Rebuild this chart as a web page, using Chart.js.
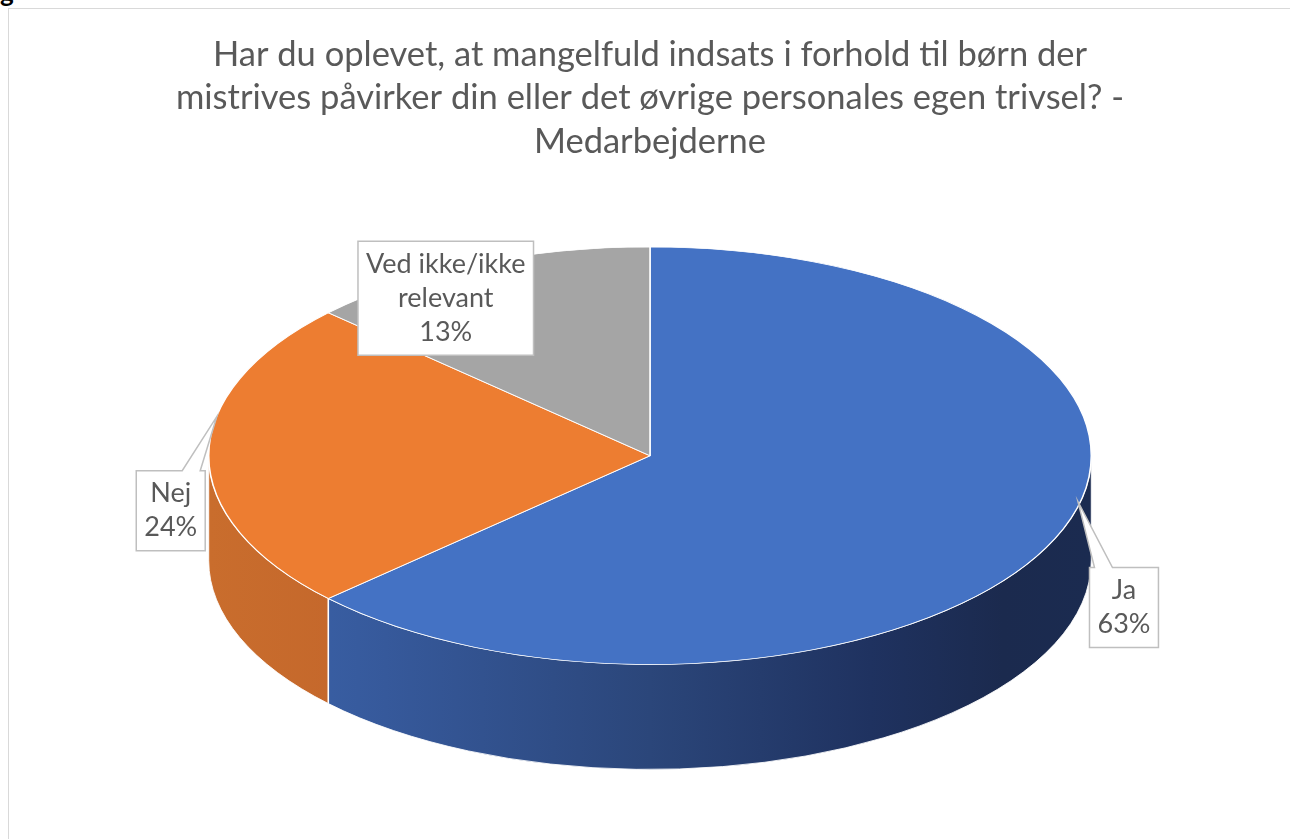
<!DOCTYPE html>
<html lang="da">
<head>
<meta charset="UTF-8">
<title>Medarbejderne</title>
<script src="https://cdn.jsdelivr.net/npm/chart.js"></script>
<style>
    body { margin: 0; background: #fff; overflow: hidden; }
    .g { position: absolute; left: 0; top: -24px; font: bold 26px Lato, sans-serif; color: #000; }
    .ramme { position: absolute; left: 8px; top: 8px; width: 1400px; height: 1000px; border: 1px solid #d9d9d9; }
    .boks { position: absolute; left: 8px; top: 8px; width: 1284px; height: 831px; }
</style>
</head>
<body>
<div class="g">g</div>
<div class="ramme"></div>
<div class="boks"><canvas id="myChart"></canvas></div>

<script>
    // data
    var kategorier = ['Ja', 'Nej', 'Ved ikke/ikke relevant'];
    var andele = [63, 24, 13];
    var etiketLinjer = [['Ja'], ['Nej'], ['Ved ikke/ikke', 'relevant']];

    // farver
    var topFarver = ['#4472C4', '#ED7D31', '#A5A5A5'];
    var sideFarver = [
        ['#3d66ae', '#36599b', '#2b467a', '#1f3260', '#1b2a4e', '#1b2b50'],
        ['#c96d2d', '#c3662b', '#bd6029', '#b85b27', '#b55926', '#b55926'],
        ['#8c8c8c', '#858585', '#7d7d7d', '#767676', '#707070', '#707070']
    ];
    var gradStop = [0, 0.2, 0.5, 0.75, 0.9, 1];

    // 3d udseende
    var BREDDE = 1.544;   // vandret udstrækning af cirklen
    var HAELDNING = 0.473; // lodret/vandret forhold for ellipsen
    var DYBDE = 0.238;    // tykkelse i forhold til vandret radius

    // placering af etiketter i forhold til buens midtpunkt
    var etiketFlyt = [[69, 69], [-38, 55], [-29, 34]];
    var pilSpids = [[23, -37], [8, -39], null];

    function geometri(chart) {
        var meta = chart.getDatasetMeta(0);
        var a = meta.data[0];
        var rx = a.outerRadius * BREDDE;
        return { cx: a.x, cy: a.y, rx: rx, ry: rx * HAELDNING, d: rx * DYBDE, arcs: meta.data };
    }

    var pie3d = {
        id: 'pie3d',
        beforeDatasetsDraw(chart) {
            var ctx = chart.ctx;
            var g = geometri(chart);

            // sidevægge (kun forsiden, vinkler 0..PI)
            g.arcs.forEach(function (arc, i) {
                var a = Math.max(arc.startAngle, 0);
                var b = Math.min(arc.endAngle, Math.PI);
                if (b <= a) return;
                var grad = ctx.createLinearGradient(g.cx - g.rx, 0, g.cx + g.rx, 0);
                sideFarver[i].forEach(function (c, k) { grad.addColorStop(gradStop[k], c); });
                ctx.save();
                ctx.beginPath();
                ctx.ellipse(g.cx, g.cy, g.rx, g.ry, 0, a, b);
                ctx.ellipse(g.cx, g.cy + g.d, g.rx, g.ry, 0, b, a, true);
                ctx.closePath();
                ctx.fillStyle = grad;
                ctx.fill();
                ctx.strokeStyle = 'rgba(255,255,255,0.85)';
                ctx.lineWidth = 1;
                ctx.stroke();
                ctx.restore();
            });

            // skille-linjer i siden
            g.arcs.forEach(function (arc) {
                var t = arc.endAngle;
                if (t > 0 && t < Math.PI) {
                    var x = g.cx + g.rx * Math.cos(t);
                    var y = g.cy + g.ry * Math.sin(t);
                    ctx.save();
                    ctx.strokeStyle = '#ffffff';
                    ctx.lineWidth = 1.5;
                    ctx.beginPath();
                    ctx.moveTo(x, y);
                    ctx.lineTo(x, y + g.d);
                    ctx.stroke();
                    ctx.restore();
                }
            });

            // trykker selve toppen sammen til en ellipse
            ctx.save();
            ctx.translate(g.cx, g.cy);
            ctx.scale(BREDDE, BREDDE * HAELDNING);
            ctx.translate(-g.cx, -g.cy);
        },
        afterDatasetsDraw(chart) {
            var ctx = chart.ctx;
            ctx.restore();
            var g = geometri(chart);

            ctx.save();
            ctx.font = '27px Lato, sans-serif';
            ctx.textAlign = 'center';
            ctx.textBaseline = 'middle';
            var lh = 34, padX = 8, padY = 6;

            g.arcs.forEach(function (arc, i) {
                var m = (arc.startAngle + arc.endAngle) / 2;
                var ax = g.cx + g.rx * Math.cos(m);
                var ay = g.cy + g.ry * Math.sin(m);
                var linjer = etiketLinjer[i].concat([andele[i] + '%']);
                var w = 0;
                linjer.forEach(function (l) { w = Math.max(w, ctx.measureText(l).width); });
                w += padX * 2;
                var h = linjer.length * lh + padY * 2;
                var mx = ax + etiketFlyt[i][0];
                var my = ay + etiketFlyt[i][1];
                var L = mx - w / 2, T = my - h / 2, R = mx + w / 2, B = my + h / 2;

                ctx.beginPath();
                ctx.moveTo(L, T);
                if (pilSpids[i]) {
                    var bc = Math.min(Math.max(ax, L + 14), R - 14);
                    ctx.lineTo(bc - 9, T);
                    ctx.lineTo(ax + pilSpids[i][0], ay + pilSpids[i][1]);
                    ctx.lineTo(bc + 9, T);
                }
                ctx.lineTo(R, T);
                ctx.lineTo(R, B);
                ctx.lineTo(L, B);
                ctx.closePath();
                ctx.fillStyle = '#ffffff';
                ctx.fill();
                ctx.strokeStyle = '#bfbfbf';
                ctx.lineWidth = 1.5;
                ctx.stroke();

                ctx.fillStyle = '#595959';
                linjer.forEach(function (l, k) {
                    ctx.fillText(l, mx, T + padY + lh * (k + 0.5));
                });
            });
            ctx.restore();
        }
    };

    new Chart(document.getElementById('myChart'), {
        type: 'pie',
        data: {
            labels: kategorier,
            datasets: [{
                data: andele,
                backgroundColor: topFarver,
                borderColor: '#ffffff',
                borderWidth: 1,
                clip: false
            }]
        },
        options: {
            responsive: true,
            maintainAspectRatio: false,
            animation: false,
            events: [],
            layout: { padding: { bottom: 97 } },
            plugins: {
                legend: { display: false },
                tooltip: { enabled: false },
                title: {
                    display: true,
                    text: [
                        'Har du oplevet, at mangelfuld indsats i forhold til børn der',
                        'mistrives påvirker din eller det øvrige personales egen trivsel? -',
                        'Medarbejderne'
                    ],
                    color: '#595959',
                    font: { family: 'Lato', size: 34.5, weight: 'normal', lineHeight: 1.26 },
                    padding: { top: 25, bottom: 6 }
                }
            }
        },
        plugins: [pie3d]
    });
</script>
</body>
</html>
